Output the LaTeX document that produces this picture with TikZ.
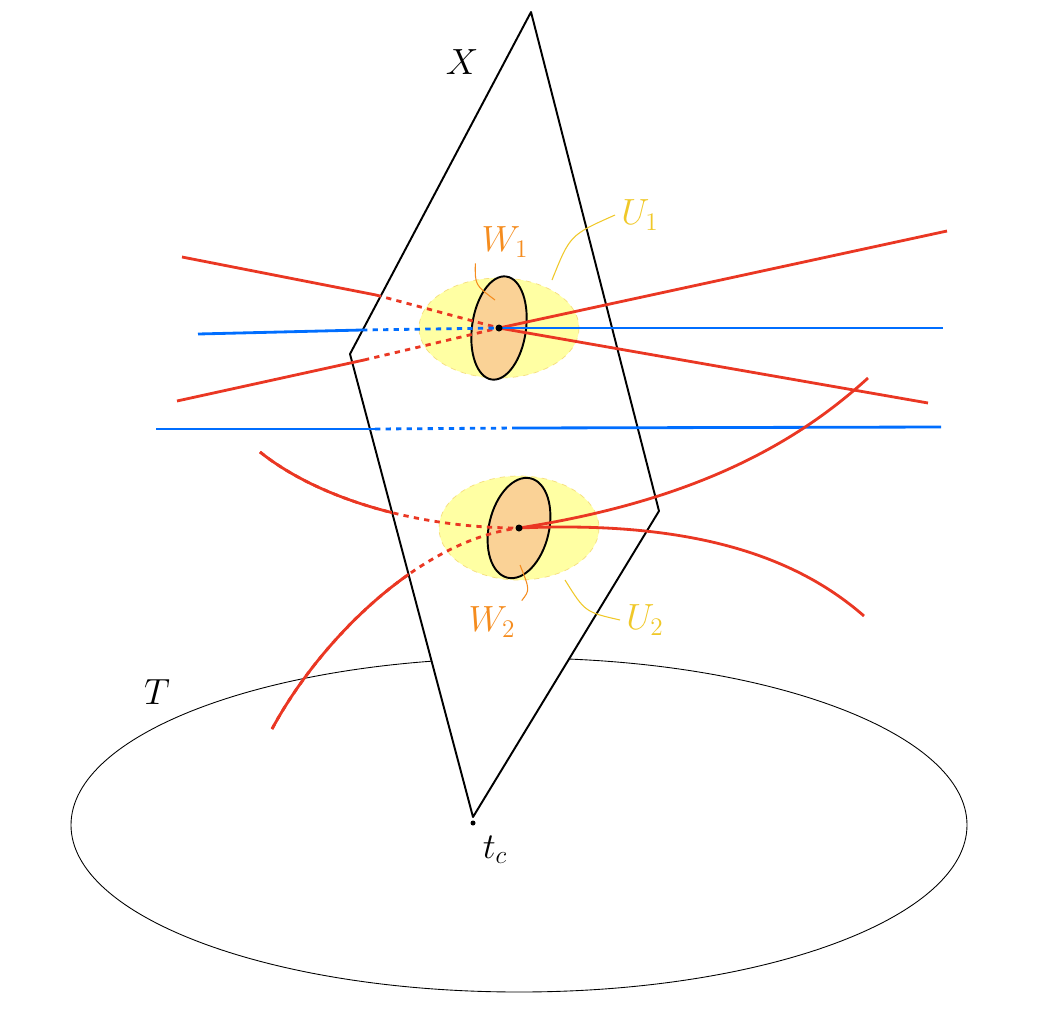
\documentclass[tikz,border=0pt]{standalone}
\usetikzlibrary{positioning}
\definecolor{lred}{RGB}{234,55,35}
\definecolor{lblue}{RGB}{0,110,255}
\definecolor{uyel}{RGB}{255,255,140}
\definecolor{uyeltext}{RGB}{240,200,40}
\definecolor{worange}{RGB}{250,210,150}
\definecolor{wtext}{RGB}{245,140,30}
\tikzset{
  redline/.style={lred, line width=1.6pt},
  blueline/.style={lblue, line width=1.6pt},
  hidden/.style={dashed},
  lbl/.style={font=\fontsize{21}{25}\selectfont},
  leader/.style={line width=0.6pt}
}
\begin{document}
\begin{tikzpicture}[x=0.02cm, y=-0.02cm]
    \useasboundingbox (0,0) rectangle (1044,1008);
    % base
    \draw[line width=0.5pt] (519,825) ellipse [x radius=448, y radius=167];
    % fibre plane
    \coordinate (Ptop) at (531,12);
    \coordinate (Pleft) at (350,354);
    \coordinate (Pbot) at (473,817);
    \coordinate (Pright) at (659,511);
    \draw[fill=white, line width=1.1pt, line join=round] (Ptop) -- (Pleft) -- (Pbot) -- (Pright) -- cycle;

    % neighbourhoods
    \coordinate (p1) at (499,328);
    \coordinate (p2) at (519,528);
    \fill[uyel, opacity=0.8] (p1) ellipse [x radius=80, y radius=50];
    \draw[uyeltext!60, dashed, line width=0.4pt] (p1) ellipse [x radius=80, y radius=50];
    \fill[uyel, opacity=0.8] (p2) ellipse [x radius=80, y radius=52];
    \draw[uyeltext!60, dashed, line width=0.4pt] (p2) ellipse [x radius=80, y radius=52];
    \draw[fill=worange, line width=1.1pt] (p1) ellipse [x radius=27, y radius=52, rotate=-8];
    \draw[fill=worange, line width=1.1pt] (p2) ellipse [x radius=30, y radius=51, rotate=-13];

    % lines through p1
    \draw[redline] (182,257) -- (376,295);
    \draw[redline, hidden] (376,295) -- (p1);
    \draw[redline] (p1) -- (928,403);
    \draw[redline] (177,401) -- (364,360);
    \draw[redline, hidden] (364,360) -- (p1);
    \draw[redline] (p1) -- (947,231);
    \draw[blueline] (198,334) -- (362,330);
    \draw[blueline, hidden] (362,330) -- (p1);
    \draw[blueline] (p1) -- (943,328);
    \draw[blueline] (156,429) -- (375,429);
    \draw[blueline, hidden] (375,429) -- (517,428);
    \draw[blueline] (517,428) -- (941,427);

    % curves through p2
    \draw[redline, hidden] (260,452) .. controls (320,500) and (420,528) .. (p2);
    \draw[redline, hidden] (272,729) .. controls (320,640) and (420,540) .. (p2);
    \begin{scope}
      \clip (0,300) -- (338,300) -- (Pleft) -- (Pbot) -- (0,817) -- cycle;
      \draw[redline] (260,452) .. controls (320,500) and (420,528) .. (p2);
      \draw[redline] (272,729) .. controls (320,640) and (420,540) .. (p2);
    \end{scope}
    \draw[redline] (p2) .. controls (700,500) and (800,440) .. (868,378);
    \draw[redline] (p2) .. controls (700,520) and (800,560) .. (864,616);

    \fill (p1) circle (3.5);
    \fill (p2) circle (3.5);
    \fill (Pbot) ++(0,6) circle (2.5);

    % labels
    \node[lbl] (X) at (462,62) {$X$};
    \node[lbl] (T) at (157,692) {$T$};
    \node[lbl] (tc) at (495,850) {$t_c$};
    \node[lbl, uyeltext] (U1) at (640,215) {$U_1$};
    \node[lbl, wtext] (W1) at (505,242) {$W_1$};
    \node[lbl, uyeltext] (U2) at (645,620) {$U_2$};
    \node[lbl, wtext] (W2) at (492,622) {$W_2$};
    \draw[leader, uyeltext] (552,280) .. controls (570,235) .. (U1.west);
    \draw[leader, wtext] (495,300) .. controls (475,285) .. (W1.south west);
    \draw[leader, wtext] (520,565) .. controls (530,590) .. (W2.north east);
    \draw[leader, uyeltext] (565,580) .. controls (585,612) .. (U2.west);
\end{tikzpicture}
\end{document}
